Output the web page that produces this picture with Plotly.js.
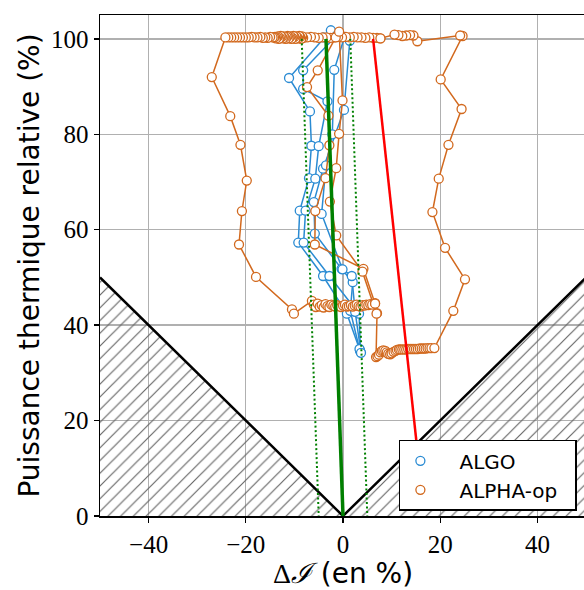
<!DOCTYPE html>
<html>
<head>
<meta charset="utf-8">
<script src="https://cdn.plot.ly/plotly-3.0.1.min.js"></script>
<style>html,body{margin:0;padding:0;overflow:hidden;background:#fff;}</style>
</head>
<body>
<div id="chart" style="width:586px;height:590px;"></div>
<script>
// ---- Data ----
var xTicks = [-40, -20, 0, 20, 40];
var yTicks = [0, 20, 40, 60, 80, 100];

// ALGO trajectories (paths separated by null)
var algoX = [-2.5, -11.1, -6.8, -6.5, -7.0, -8.9, -9.2, -4.1, 0.8, 3.5, null,
             -1.2, -8.2, -8.2, -3.2, -5.0, -5.7, -7.7, -8.1, -2.8, 3.3, 3.6, null,
             -4.0, 1.4, 0.2, -4.1, -6.0, -5.8, -0.3, 2.0, 1.5, 3.4, null,
             0.3, -1.8, -2.2, -3.5, -4.4, -0.1, 1.8, 2.5, 3.7];
var algoY = [101.8, 91.8, 84.8, 77.6, 70.8, 64.0, 57.3, 50.3, 42.4, 34.7, null,
             100.8, 93.4, 89.5, 86.9, 77.5, 70.7, 64.0, 57.3, 50.3, 42.4, 34.4, null,
             100.3, 99.6, 85.1, 72.8, 65.8, 59.2, 51.8, 49.0, 43.0, 35.0, null,
             100.4, 93.5, 80.0, 73.5, 63.3, 51.7, 50.3, 42.8, 34.2];

// ALPHA-op trajectories (paths separated by null)
var alphaX = [
  // top band (right to left)
  7.7, 7.0, 6.2, 5.4, 4.6, 3.8, 3.0, 2.2, 1.4, 0.6,
  -0.2, -1.0, -1.8, -2.6, -3.4, -4.2, -5.0, -5.8, -6.6, -7.4,
  -8.2, -8.4, -8.6, -8.8, -9.0, -9.2, -9.4, -9.6, -9.8, -10.0,
  -10.2, -10.4, -10.6, -10.8, -11.0, -11.2, -11.4, -11.6, -11.8, -12.0,
  -12.2, -12.4, -12.6, -12.8, -13.0, -13.2, -13.4, -13.6, -13.8, -14.0,
  -14.2, -14.5, -15.0, -15.5, -16.0, -16.5, -17.0, -17.6, -18.2, -18.8,
  -19.4, -20.0, -20.6, -21.2, -21.8, -22.4, -23.0, -23.6, -24.2,
  // left loop
  -27.0, -23.2, -21.1, -19.8, -20.8, -21.4, -17.9, -10.5, -10.1, -6.4,
  // band near 44 %
  -6.0, -5.6, -5.2, -4.8, -4.4, -4.0, -3.6, -3.2, -2.8, -2.4,
  -2.0, -1.6, -1.2, -0.8, -0.4, 0.0, 0.4, 0.8, 1.2, 1.6,
  2.0, 2.4, 2.8, 3.2, 3.6, 4.0, 4.4, 4.8, 5.2, 5.6, 6.0, 6.6,
  7.0, 6.8,
  // band near 35 %
  7.1, 7.4, 7.7, 8.0, 8.3, 8.7, 9.0, 9.3, 9.7, 10.0,
  10.4, 10.8, 11.1, 11.5, 11.8, 12.2, 12.6, 13.0, 13.4, 13.8,
  14.2, 14.6, 15.0, 15.4, 15.8, 16.2, 16.6, 17.0, 17.4, 17.8, 18.2, 18.8,
  // right loop
  22.7, 25.1, 21.0, 18.4, 19.7, 21.7, 24.4, 20.1, 24.6, 24.1,
  15.3, 14.5, 13.8, 13.0, 12.2, 11.4, 10.6, 7.7, null,
  // middle paths
  -1.5, -5.2, -7.4, -3.0, -2.8, -3.6, -5.7, -5.8, 4.2, 6.6, null,
  -0.8, -0.1, -0.8, -1.4, -2.7, -1.4, 4.0, 6.9
];
var alphaY = [
  100.1, 100.2, 100.2, 100.3, 100.2, 100.3, 100.3, 100.4, 100.3, 100.4,
  100.3, 100.4, 100.3, 100.2, 100.3, 100.3, 100.2, 100.3, 100.4, 100.3,
  100.2, 100.5, 100.0, 100.4, 100.6, 100.1, 100.3, 100.5, 100.0, 100.4,
  100.6, 100.2, 100.0, 100.5, 100.3, 100.1, 100.6, 100.4, 100.0, 100.3,
  100.5, 100.1, 100.4, 100.6, 100.2, 100.0, 100.5, 100.3, 100.1, 100.4,
  100.3, 100.3, 100.4, 100.2, 100.3, 100.2, 100.4, 100.3, 100.3, 100.4,
  100.3, 100.3, 100.3, 100.3, 100.3, 100.3, 100.3, 100.3, 100.3,
  92.0, 83.8, 77.8, 70.3, 63.9, 56.9, 50.1, 43.3, 42.4, 45.1,
  44.3, 43.8, 44.5, 43.9, 44.2, 43.7, 44.4, 44.0, 43.8, 44.3,
  44.1, 43.9, 44.2, 44.0, 43.8, 44.1, 44.3, 43.9, 44.0, 44.2,
  43.9, 44.1, 44.3, 44.0, 43.9, 44.2, 44.1, 44.3, 44.2, 44.4, 44.3, 44.6,
  42.5, 33.3,
  33.5, 33.8, 34.3, 34.6, 34.7, 34.6, 34.3, 34.0, 33.9, 34.1,
  34.4, 34.6, 34.8, 34.9, 34.9, 34.9, 34.9, 34.9, 35.0, 35.0,
  35.0, 35.0, 35.0, 35.0, 35.1, 35.1, 35.1, 35.1, 35.2, 35.2, 35.2, 35.2,
  43.0, 49.6, 56.2, 63.7, 70.7, 77.8, 85.3, 91.5, 100.6, 100.7,
  99.5, 100.7, 100.8, 100.7, 100.6, 100.8, 100.9, 100.1, null,
  100.3, 93.4, 89.9, 83.9, 77.7, 70.8, 63.9, 56.9, 51.8, 44.5, null,
  101.5, 87.1, 80.1, 72.9, 65.9, 58.8, 51.2, 42.4
];

// reference lines
var greenX = [-3.5, 0];
var greenY = [100, 0];
var dotLeftX = [-8.5, -5];
var dotRightX = [1.5, 5];
var dotY = [100, 0];
var redX = [6.2, 15.7];
var redY = [100, 10];

// forbidden zones (|x| lines)
var vX = [-50, 0, 50];
var vY = [50, 0, 50];
var leftZoneX = [-50, 0, -50, -50];
var leftZoneY = [50, 0, 0, 50];
var rightZoneX = [0, 50, 50, 0];
var rightZoneY = [0, 50, 0, 0];

// ---- styles ----
var blue = '#2a8bd3';
var orange = '#d2691e';
var hatch = {shape: '/', fgcolor: '#666666', bgcolor: 'rgba(0,0,0,0)', size: 9, solidity: 0.13};
var lead = '\u00a0\u00a0\u00a0';
var tail = '\u00a0\u00a0';

var traces = [
  {x: leftZoneX, y: leftZoneY, mode: 'lines', fill: 'toself', fillcolor: 'rgba(0,0,0,0)',
   fillpattern: hatch, line: {width: 0}, showlegend: false, hoverinfo: 'skip'},
  {x: rightZoneX, y: rightZoneY, mode: 'lines', fill: 'toself', fillcolor: 'rgba(0,0,0,0)',
   fillpattern: hatch, line: {width: 0}, showlegend: false, hoverinfo: 'skip'},
  {x: vX, y: vY, mode: 'lines', line: {color: '#000', width: 2.5}, showlegend: false},
  {x: algoX, y: algoY, mode: 'lines', line: {color: blue, width: 1.5}, connectgaps: false, showlegend: false},
  {x: algoX, y: algoY, mode: 'markers', name: lead + 'ALGO',
   marker: {symbol: 'circle', size: 9, color: '#fff', line: {color: blue, width: 1.3}}},
  {x: alphaX, y: alphaY, mode: 'lines', line: {color: orange, width: 1.5}, connectgaps: false, showlegend: false},
  {x: alphaX, y: alphaY, mode: 'markers', name: lead + 'ALPHA-op' + tail,
   marker: {symbol: 'circle', size: 9, color: '#fff', line: {color: orange, width: 1.3}}},
  {x: dotLeftX, y: dotY, mode: 'lines', line: {color: '#008000', width: 2, dash: '2px,2.5px'}, showlegend: false},
  {x: dotRightX, y: dotY, mode: 'lines', line: {color: '#008000', width: 2, dash: '2px,2.5px'}, showlegend: false},
  {x: greenX, y: greenY, mode: 'lines', line: {color: '#008000', width: 3.5}, showlegend: false},
  {x: redX, y: redY, mode: 'lines', line: {color: '#ff0000', width: 2.5}, showlegend: false}
];

var tickFont = {family: 'Liberation Serif, serif', size: 25, color: '#000'};
var layout = {
  width: 586, height: 590,
  margin: {l: 100, r: 0, t: 15, b: 74},
  paper_bgcolor: '#fff', plot_bgcolor: '#fff',
  showlegend: true,
  xaxis: {
    range: [-50, 50], tickvals: xTicks, ticktext: xTicks.map(function(v){return v < 0 ? '\u2212' + Math.abs(v) : String(v);}),
    showgrid: true, gridcolor: '#b0b0b0', gridwidth: 1.3, zeroline: false,
    showline: true, linecolor: '#000', linewidth: 1.5, mirror: true,
    ticks: 'outside', ticklen: 5, tickwidth: 1.3, tickcolor: '#000',
    tickfont: tickFont,
    title: {text: '<span style="font-family:Liberation Serif">Δ<i>ℐ</i></span> (en %)', font: {family: 'DejaVu Sans', size: 28, color: '#000'}, standoff: 7}
  },
  yaxis: {
    range: [0, 105], tickvals: yTicks, ticktext: yTicks.map(String),
    showgrid: true, gridcolor: '#b0b0b0', gridwidth: 1.3, zeroline: false,
    showline: true, linecolor: '#000', linewidth: 1.5, mirror: true,
    ticks: 'outside', ticklen: 5, tickwidth: 1.3, tickcolor: '#000',
    tickfont: tickFont,
    title: {text: 'Puissance thermique relative (%)', font: {family: 'DejaVu Sans', size: 28, color: '#000'}, standoff: 3}
  },
  legend: {
    x: 0.615, y: 0.152, xanchor: 'left', yanchor: 'top',
    bgcolor: '#fff', bordercolor: '#000', borderwidth: 1.5,
    font: {family: 'DejaVu Sans', size: 20, color: '#000'},
    tracegroupgap: 0
  }
};

Plotly.newPlot('chart', traces, layout, {staticPlot: true, displayModeBar: false});
</script>
</body>
</html>
